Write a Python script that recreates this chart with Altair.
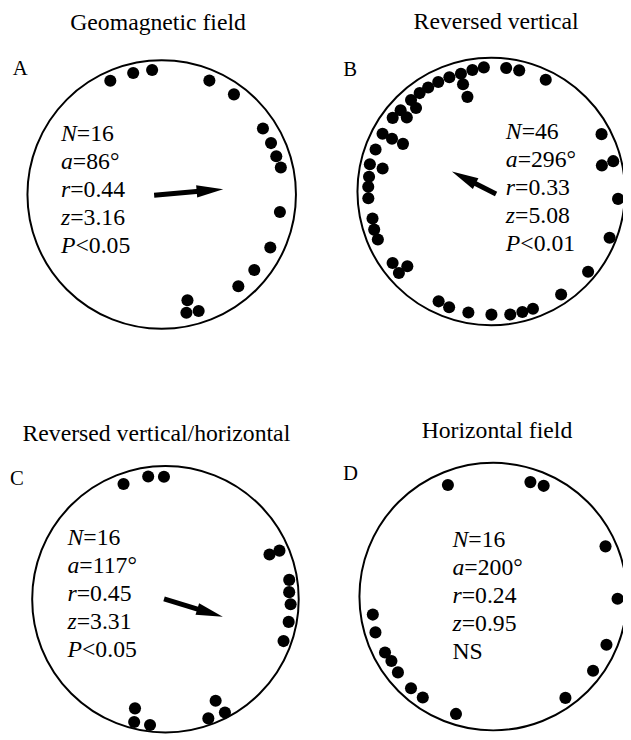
import math
import pandas as pd
import altair as alt

# ---------------- data ----------------
TITLES = ["Geomagnetic field", "Reversed vertical",
          "Reversed vertical/horizontal", "Horizontal field"]
LETTERS = ["A", "B", "C", "D"]

STAT_SYMBOLS = [
    ["N", "a", "r", "z", "P"],
    ["N", "a", "r", "z", "P"],
    ["N", "a", "r", "z", "P"],
    ["N", "a", "r", "z", ""],
]
STAT_VALUES = [
    ["=16", "=86°", "=0.44", "=3.16", "<0.05"],
    ["=46", "=296°", "=0.33", "=5.08", "<0.01"],
    ["=16", "=117°", "=0.45", "=3.31", "<0.05"],
    ["=16", "=200°", "=0.24", "=0.95", "NS"],
]

# individual headings (degrees clockwise from top) and radial placement (fraction of circle radius)
ANGLES_A = [335.7, 346.8, 355.6, 22.7, 35.8, 56.9, 64.8, 71.5, 77.2, 98.4,
            116.0, 129.2, 140.1, 166.3, 168.2, 162.4]
RADII_A = [0.93, 0.93, 0.93, 0.92, 0.92, 0.90, 0.90, 0.90, 0.91, 0.89,
           0.90, 0.89, 0.89, 0.81, 0.90, 0.91]

ANGLES_B = [356.6, 351.2, 345.6, 345.3, 345.9, 339.9, 334.2, 328.8, 324.0, 318.8,
            318.0, 311.9, 306.8, 311.3, 298.0, 298.0, 298.4, 290.0, 282.7, 282.0,
            276.9, 272.2, 266.9, 257.2, 252.0, 247.1, 234.1, 228.6, 228.3, 205.6,
            200.0, 190.7, 179.9, 171.2, 165.5, 160.4, 145.8, 129.6, 111.3, 93.3,
            76.7, 76.0, 62.5, 26.0, 13.0, 6.9]
RADII_B = [0.93, 0.92, 0.91, 0.83, 0.73, 0.91, 0.91, 0.91, 0.91, 0.91,
           0.84, 0.91, 0.92, 0.84, 0.92, 0.84, 0.75, 0.92, 0.93, 0.83,
           0.92, 0.92, 0.92, 0.91, 0.92, 0.92, 0.91, 0.92, 0.84, 0.91,
           0.92, 0.92, 0.92, 0.93, 0.93, 0.93, 0.93, 0.94, 0.95, 0.95,
           0.85, 0.94, 0.93, 0.93, 0.93, 0.93]

ANGLES_C = [340.0, 352.0, 359.3, 66.7, 66.9, 81.1, 86.7, 92.3, 100.4, 109.5,
            153.7, 152.3, 160.2, 195.6, 194.3, 187.0]
RADII_C = [0.92, 0.93, 0.92, 0.85, 0.93, 0.94, 0.93, 0.94, 0.94, 0.94,
           0.85, 0.96, 0.95, 0.85, 0.95, 0.95]

ANGLES_D = [337.9, 18.0, 24.5, 65.9, 91.0, 113.0, 126.6, 144.5, 197.6, 214.9,
            221.9, 231.5, 237.7, 242.7, 253.1, 261.5]
RADII_D = [0.90, 0.90, 0.91, 0.92, 0.93, 0.92, 0.93, 0.93, 0.92, 0.92,
           0.92, 0.91, 0.90, 0.91, 0.92, 0.91]

ANGLES = [ANGLES_A, ANGLES_B, ANGLES_C, ANGLES_D]
RADII = [RADII_A, RADII_B, RADII_C, RADII_D]

# mean vector as drawn (panel D has none)
ARROW_ANGLE = [85.0, 297.0, 107.0, None]
ARROW_LENGTH = [0.46, 0.33, 0.45, None]

# ---------------- layout (pixels, chart coordinates) ----------------
W, H = 623, 732
CENTERS = [(155.7, 184.2), (489.5, 181.2), (159.5, 594.2), (491.5, 591.5)]
RADIUS = [136.0, 135.5, 135.0, 135.5]
TITLE_XY = [(152.0, 17.7), (494.5, 16.3), (150.3, 433.7), (495.3, 431.3)]
LETTER_XY = [(4.7, 62.7), (339.7, 63.7), (2.0, 478.0), (339.3, 473.7)]
STAT_XY = [(53.7, 129.7), (504.3, 128.0), (60.3, 539.3), (450.3, 541.0)]
LINE_GAP = 28.4
ARROW_TAIL = [7.7, 5.5, 1.5, 0.0]
FONT = "Liberation Serif"
STAT_SIZE = 24
ITALIC_W = {"N": 0.667, "a": 0.5, "r": 0.389, "z": 0.389, "P": 0.611, "": 0.0}
HEAD_LEN = 27.0
HEAD_PATH = "M0,-1L0.46,1L-0.46,1Z"

# ---------------- build tables ----------------
ring_rows, dot_rows, shaft_rows, head_rows = [], [], [], []
title_rows, letter_rows, sym_rows, val_rows = [], [], [], []
for p in range(4):
    cx, cy = CENTERS[p]
    R = RADIUS[p]
    ring_rows.append({"x": cx, "y": cy, "s": (2 * R) ** 2})
    for ang, rad in zip(ANGLES[p], RADII[p]):
        t = math.radians(ang)
        dot_rows.append({"x": cx + rad * R * math.sin(t),
                         "y": cy - rad * R * math.cos(t)})
    if ARROW_ANGLE[p] is not None:
        t = math.radians(ARROW_ANGLE[p])
        s, c = math.sin(t), -math.cos(t)
        L = ARROW_LENGTH[p] * R
        tipx, tipy = cx + L * s, cy + L * c
        tail = ARROW_TAIL[p]
        shaft_rows.append({"x": cx - tail * s, "y": cy - tail * c,
                           "x2": tipx - 0.8 * HEAD_LEN * s,
                           "y2": tipy - 0.8 * HEAD_LEN * c})
        head_rows.append({"x": tipx - HEAD_LEN / 2 * s,
                          "y": tipy - HEAD_LEN / 2 * c,
                          "ang": ARROW_ANGLE[p]})
    tx, ty = TITLE_XY[p]
    title_rows.append({"x": tx, "y": ty, "text": TITLES[p]})
    lx, ly = LETTER_XY[p]
    letter_rows.append({"x": lx, "y": ly, "text": LETTERS[p]})
    sx, sy = STAT_XY[p]
    for i, (sym, val) in enumerate(zip(STAT_SYMBOLS[p], STAT_VALUES[p])):
        yy = sy + i * LINE_GAP
        sym_rows.append({"x": sx, "y": yy, "text": sym})
        val_rows.append({"x": sx + ITALIC_W[sym] * STAT_SIZE, "y": yy, "text": val})

xs = alt.Scale(domain=[0, W], nice=False, zero=False)
ys = alt.Scale(domain=[0, H], nice=False, zero=False, reverse=True)
X = alt.X("x:Q", scale=xs, axis=None)
Y = alt.Y("y:Q", scale=ys, axis=None)

ring = alt.Chart(pd.DataFrame(ring_rows)).mark_point(
    shape="circle", filled=False, stroke="black", strokeWidth=2, opacity=1
).encode(x=X, y=Y, size=alt.Size("s:Q", scale=None))

dots = alt.Chart(pd.DataFrame(dot_rows)).mark_circle(
    size=150, color="black", opacity=1
).encode(x=X, y=Y)

shaft = alt.Chart(pd.DataFrame(shaft_rows)).mark_rule(
    color="black", strokeWidth=5
).encode(x=X, y=Y, x2="x2:Q", y2="y2:Q")

head = alt.Chart(pd.DataFrame(head_rows)).mark_point(
    shape=HEAD_PATH, size=HEAD_LEN ** 2, filled=True, color="black",
    opacity=1, strokeWidth=0
).encode(x=X, y=Y, angle=alt.Angle("ang:Q", scale=None))

titles = alt.Chart(pd.DataFrame(title_rows)).mark_text(
    font=FONT, fontSize=24, align="center", baseline="alphabetic", color="black"
).encode(x=X, y=Y, text="text:N")

letters = alt.Chart(pd.DataFrame(letter_rows)).mark_text(
    font=FONT, fontSize=21, align="left", baseline="alphabetic", color="black"
).encode(x=X, y=Y, text="text:N")

syms = alt.Chart(pd.DataFrame(sym_rows)).mark_text(
    font=FONT, fontSize=STAT_SIZE, fontStyle="italic", align="left",
    baseline="alphabetic", color="black"
).encode(x=X, y=Y, text="text:N")

vals = alt.Chart(pd.DataFrame(val_rows)).mark_text(
    font=FONT, fontSize=STAT_SIZE, align="left", baseline="alphabetic", color="black"
).encode(x=X, y=Y, text="text:N")

chart = alt.layer(ring, dots, shaft, head, titles, letters, syms, vals).properties(
    width=W, height=H, padding=0,
    autosize=alt.AutoSizeParams(type="none"),
    background="white",
).configure_view(strokeWidth=0)

chart.save("out.html", embed_options={"renderer": "svg", "actions": False})
